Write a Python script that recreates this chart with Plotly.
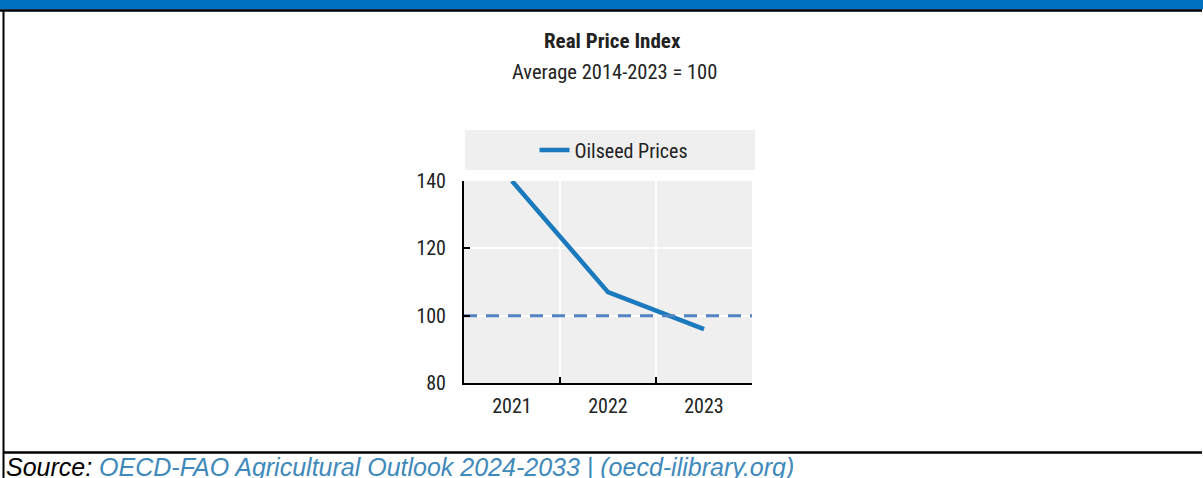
import plotly.graph_objects as go

# ---- data ----
years = ["2021", "2022", "2023"]
oilseed_prices = [140, 107, 96]
average_level = 100
y_ticks = [80, 100, 120, 140]

W, H = 1203, 478
NARROW = "Liberation Sans Narrow, Arial Narrow, Roboto Condensed, DejaVu Sans Condensed, sans-serif"

def px_x(p):
    return p / W

def px_y(p):
    return 1 - p / H

fig = go.Figure()
# average reference line across the full plot width (hidden overlay axis spanning 0..1)
fig.add_trace(go.Scatter(
    x=[0, 1], y=[average_level, average_level], mode="lines", xaxis="x2", yaxis="y",
    line=dict(color="#5283c4", width=3, dash="13px,9px"), showlegend=False, hoverinfo="skip",
))
fig.add_trace(go.Scatter(
    x=years, y=oilseed_prices, mode="lines", name="Oilseed Prices",
    line=dict(color="#1a7abd", width=4.5),
))

shapes = [
    dict(type="rect", xref="paper", yref="paper", x0=0, x1=1, y0=px_y(9.5), y1=1,
         fillcolor="#0070c0", line=dict(width=0), layer="above"),
    dict(type="line", xref="paper", yref="paper", x0=0, x1=px_x(1202), y0=px_y(10.5), y1=px_y(10.5),
         line=dict(color="black", width=2.5)),
    dict(type="line", xref="paper", yref="paper", x0=px_x(3.5), x1=px_x(3.5), y0=0, y1=px_y(10),
         line=dict(color="black", width=2)),
    dict(type="line", xref="paper", yref="paper", x0=px_x(3), x1=px_x(1202), y0=px_y(452.5), y1=px_y(452.5),
         line=dict(color="black", width=2.5)),
    dict(type="rect", xref="paper", yref="paper", x0=px_x(465), x1=px_x(755), y0=px_y(170), y1=px_y(130),
         fillcolor="#efefef", line=dict(width=0), layer="below"),
]
for s in shapes:
    fig.add_shape(**s)

annotations = [
    dict(text="<b>Real Price Index</b>", x=px_x(612), y=px_y(41), xref="paper", yref="paper",
         showarrow=False, font=dict(family=NARROW, size=21, color="#222"), xanchor="center", yanchor="middle"),
    dict(text="Average 2014-2023 = 100", x=px_x(614), y=px_y(72), xref="paper", yref="paper",
         showarrow=False, font=dict(family=NARROW, size=20.5, color="#222"), xanchor="center", yanchor="middle"),
    dict(text="<i>Source: </i><i><span style='color:#4089bb'>OECD-FAO Agricultural Outlook 2024-2033 | (oecd-ilibrary.org)</span></i>",
         x=px_x(4), y=px_y(467), xref="paper", yref="paper", showarrow=False,
         font=dict(family="Liberation Sans, Arial, sans-serif", size=25, color="black"),
         xanchor="left", yanchor="middle"),
]

fig.update_layout(
    width=W, height=H,
    margin=dict(l=0, r=0, t=0, b=0, pad=0, autoexpand=False),
    paper_bgcolor="white",
    plot_bgcolor="#efefef",
    annotations=annotations,
    showlegend=True,
    legend=dict(x=px_x(614), y=px_y(150), xanchor="center", yanchor="middle",
                bgcolor="rgba(0,0,0,0)", font=dict(family=NARROW, size=20, color="#222")),
    xaxis=dict(domain=[px_x(464), px_x(752)], type="category", tickson="boundaries",
               ticks="inside", ticklen=6, tickcolor="black", tickwidth=2,
               showline=True, linecolor="black", linewidth=2,
               showgrid=True, gridcolor="white", gridwidth=1.5,
               tickfont=dict(family=NARROW, size=20, color="#222"), ticklabelstandoff=4,
               range=[-0.5, 2.5], automargin=False),
    xaxis2=dict(overlaying="x", anchor="y", range=[0, 1], visible=False, automargin=False),
    yaxis=dict(domain=[px_y(383), px_y(181)], range=[80, 140], tickvals=y_ticks,
               ticks="inside", ticklen=6, tickcolor="black", tickwidth=2,
               showline=True, linecolor="black", linewidth=2,
               showgrid=True, gridcolor="white", gridwidth=1.5, zeroline=False,
               tickfont=dict(family=NARROW, size=20, color="#222"), ticklabelstandoff=12,
               automargin=False),
)

fig.write_html("out.html")
